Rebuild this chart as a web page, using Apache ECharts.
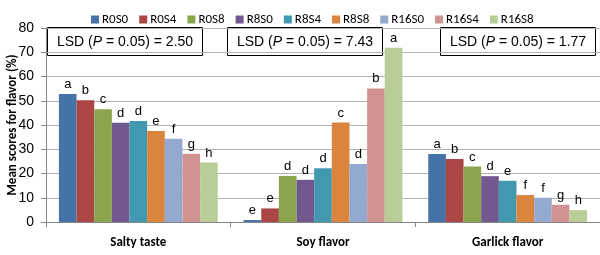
<!DOCTYPE html>
<html>
<head>
<meta charset="utf-8">
<script src="https://cdn.jsdelivr.net/npm/echarts@6/dist/echarts.min.js"></script>
<style>
  html, body { margin: 0; padding: 0; background: #fff; }
  #chart { width: 600px; height: 255px; }
</style>
</head>
<body>
<div id="chart"></div>
<script>
const categories = ['Salty taste', 'Soy flavor', 'Garlick flavor'];
const treatments = ['R0S0', 'R0S4', 'R0S8', 'R8S0', 'R8S4', 'R8S8', 'R16S0', 'R16S4', 'R16S8'];
const colors = ['#4572A7', '#AA4643', '#89A54E', '#71588F', '#4198AF', '#DB843D', '#93A9CF', '#D19392', '#B9CD96'];

// values per treatment: [salty, soy, garlick]
const R0S0 = [52.8, 0.8, 28.0];
const R0S4 = [50.2, 5.6, 26.0];
const R0S8 = [46.5, 19.0, 22.9];
const R8S0 = [40.9, 17.4, 18.9];
const R8S4 = [41.6, 22.2, 17.0];
const R8S8 = [37.5, 41.0, 11.1];
const R16S0 = [34.3, 23.9, 10.0];
const R16S4 = [28.1, 55.1, 7.1];
const R16S8 = [24.5, 71.9, 4.9];
const values = [R0S0, R0S4, R0S8, R8S0, R8S4, R8S8, R16S0, R16S4, R16S8];

// significance letters per treatment: [salty, soy, garlick]
const letters = [
  ['a', 'e', 'a'], ['b', 'e', 'b'], ['c', 'd', 'c'], ['d', 'd', 'd'], ['d', 'd', 'e'],
  ['e', 'c', 'f'], ['f', 'd', 'f'], ['g', 'b', 'g'], ['h', 'a', 'h']
];
const lsdValues = ['2.50', '7.43', '1.77'];

const chart = echarts.init(document.getElementById('chart'));

const calibri = 'Calibri, Carlito, "Liberation Sans", sans-serif';
const arial = 'Arial, "Liberation Sans", sans-serif';

const series = treatments.map((name, i) => ({
  name: name,
  type: 'bar',
  data: values[i],
  barGap: '0%',
  barCategoryGap: '14%',
  itemStyle: { color: colors[i] },
  label: {
    show: true,
    position: 'top',
    distance: 3,
    color: '#000',
    fontSize: 13,
    fontFamily: arial,
    formatter: p => letters[i][p.dataIndex]
  }
}));

// LSD boxes drawn as graphic elements
const boxX = [47, 227, 440];
const graphics = lsdValues.map((v, i) => ({
  type: 'group',
  left: boxX[i],
  top: 27,
  children: [
    { type: 'rect', shape: { x: 0, y: 0, width: 155, height: 28 },
      style: { fill: '#fff', stroke: '#000', lineWidth: 1 } },
    { type: 'text', x: 77.5, y: 14.5,
      style: {
        text: '{n|LSD (}{i|P}{n| = 0.05) = ' + v + '}',
        align: 'center', verticalAlign: 'middle',
        rich: {
          n: { fontSize: 14, fontFamily: arial, fill: '#000' },
          i: { fontSize: 14, fontFamily: arial, fontStyle: 'italic', fill: '#000' }
        }
      } }
  ]
}));

const option = {
  backgroundColor: '#fff',
  animation: false,
  legend: {
    top: 8,
    left: 86,
    itemWidth: 8,
    itemHeight: 8,
    itemGap: 11,
    icon: 'rect',
    textStyle: { fontSize: 13, fontFamily: calibri, color: '#000', padding: [0, 0, 0, -2] },
    data: treatments
  },
  grid: { left: 46, right: 0, top: 28, bottom: 33, outerBoundsMode: 'none' },
  xAxis: {
    type: 'category',
    data: categories,
    axisLine: { lineStyle: { color: '#868686' } },
    axisTick: { show: true, alignWithLabel: false, length: 5, lineStyle: { color: '#868686' } },
    axisLabel: { fontSize: 13, fontWeight: 'bold', fontFamily: calibri, color: '#000', margin: 14 }
  },
  yAxis: {
    type: 'value',
    min: 0,
    max: 80,
    interval: 10,
    name: 'Mean scores for flavor (%)',
    nameLocation: 'middle',
    nameGap: 27,
    nameMoveOverlap: false,
    nameTextStyle: { fontSize: 13, fontWeight: 'bold', fontFamily: calibri, color: '#000' },
    axisLine: { show: true, lineStyle: { color: '#868686' } },
    axisTick: { show: true, length: 5, lineStyle: { color: '#868686' } },
    axisLabel: { fontSize: 14, fontFamily: arial, color: '#000', margin: 12 },
    splitLine: { lineStyle: { color: '#b3b3b3' } }
  },
  graphic: graphics,
  series: series
};

chart.setOption(option);
</script>
</body>
</html>
